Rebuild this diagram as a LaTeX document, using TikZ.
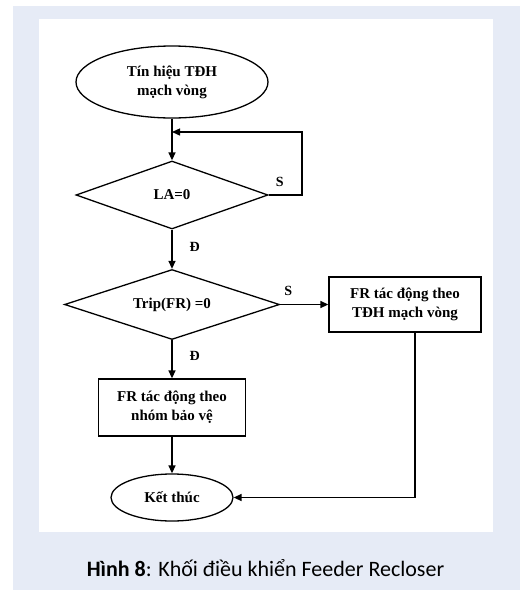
\documentclass[tikz,border=0pt]{standalone}
\usepackage{fontspec}
\setmainfont{Liberation Serif}
\newfontfamily\captionfont{Carlito}
\usetikzlibrary{shapes.geometric,arrows.meta,positioning}
\definecolor{panelblue}{RGB}{230,235,246}

\begin{document}
\begin{tikzpicture}[x=1pt,y=-1pt]

\tikzset{
    flow/.style={draw, line width=1.3pt, font=\bfseries\fontsize{15}{19}\selectfont, align=center, inner sep=0pt},
    terminal/.style={flow, ellipse},
    decision/.style={flow, diamond, shape aspect=3},
    process/.style={flow, rectangle},
    link/.style={line width=1.4pt, -{Triangle[length=8pt,width=7pt]}},
    answer/.style={font=\bfseries\fontsize{14}{16}\selectfont, inner sep=0pt}
}
\useasboundingbox (0,0) rectangle (523,590);
\fill[white] (0,0) rectangle (523,590);
\fill[panelblue] (13,6) rectangle (520,590);
\fill[white] (39,19) rectangle (493,532);

\node[terminal, minimum width=192pt, minimum height=72pt] (start) at (172,82) {Tín hiệu TĐH\\mạch vòng};
\node[decision, minimum width=192pt, minimum height=68pt] (la) at (172,195) {LA=0};
\node[decision, minimum width=215pt, minimum height=70pt] (trip) at (172,304.5) {Trip(FR) =0};
\node[process, minimum width=152pt, minimum height=55pt] (frloop) at (405,304.5) {FR tác động theo\\TĐH mạch vòng};
\node[process, minimum width=147pt, minimum height=57pt] (frgroup) at (172,407.5) {FR tác động theo\\nhóm bảo vệ};
\node[terminal, minimum width=122pt, minimum height=47pt] (finish) at (172,497.5) {Kết thúc};

\coordinate (loopback) at (302,132);
\coordinate (loopin) at (172,132);

\draw[link] (start) -- (la);
\draw[link] (la.east) -| (loopback) -- (loopin);
\draw[link] (la) -- node[answer, pos=0.45, right=17pt] {Đ} (trip);
\draw[link] (trip) -- (frloop);
\draw[link] (trip) -- node[answer, pos=0.4, right=17pt] {Đ} (frgroup);
\draw[link] (frgroup) -- (finish);
\draw[link] ([xshift=10pt]frloop.south) |- (finish.east);

\node[answer, above right=8pt and 7pt of la.east] (loopno) {S};
\node[answer, above right=9pt and 4pt of trip.east] (tripno) {S};

\node[font=\captionfont\fontsize{22}{26}\selectfont, anchor=base, inner sep=0pt] (caption) at (265.5,576.5) {\textbf{Hình 8}: Khối điều khiển Feeder Recloser};
\end{tikzpicture}
\end{document}
